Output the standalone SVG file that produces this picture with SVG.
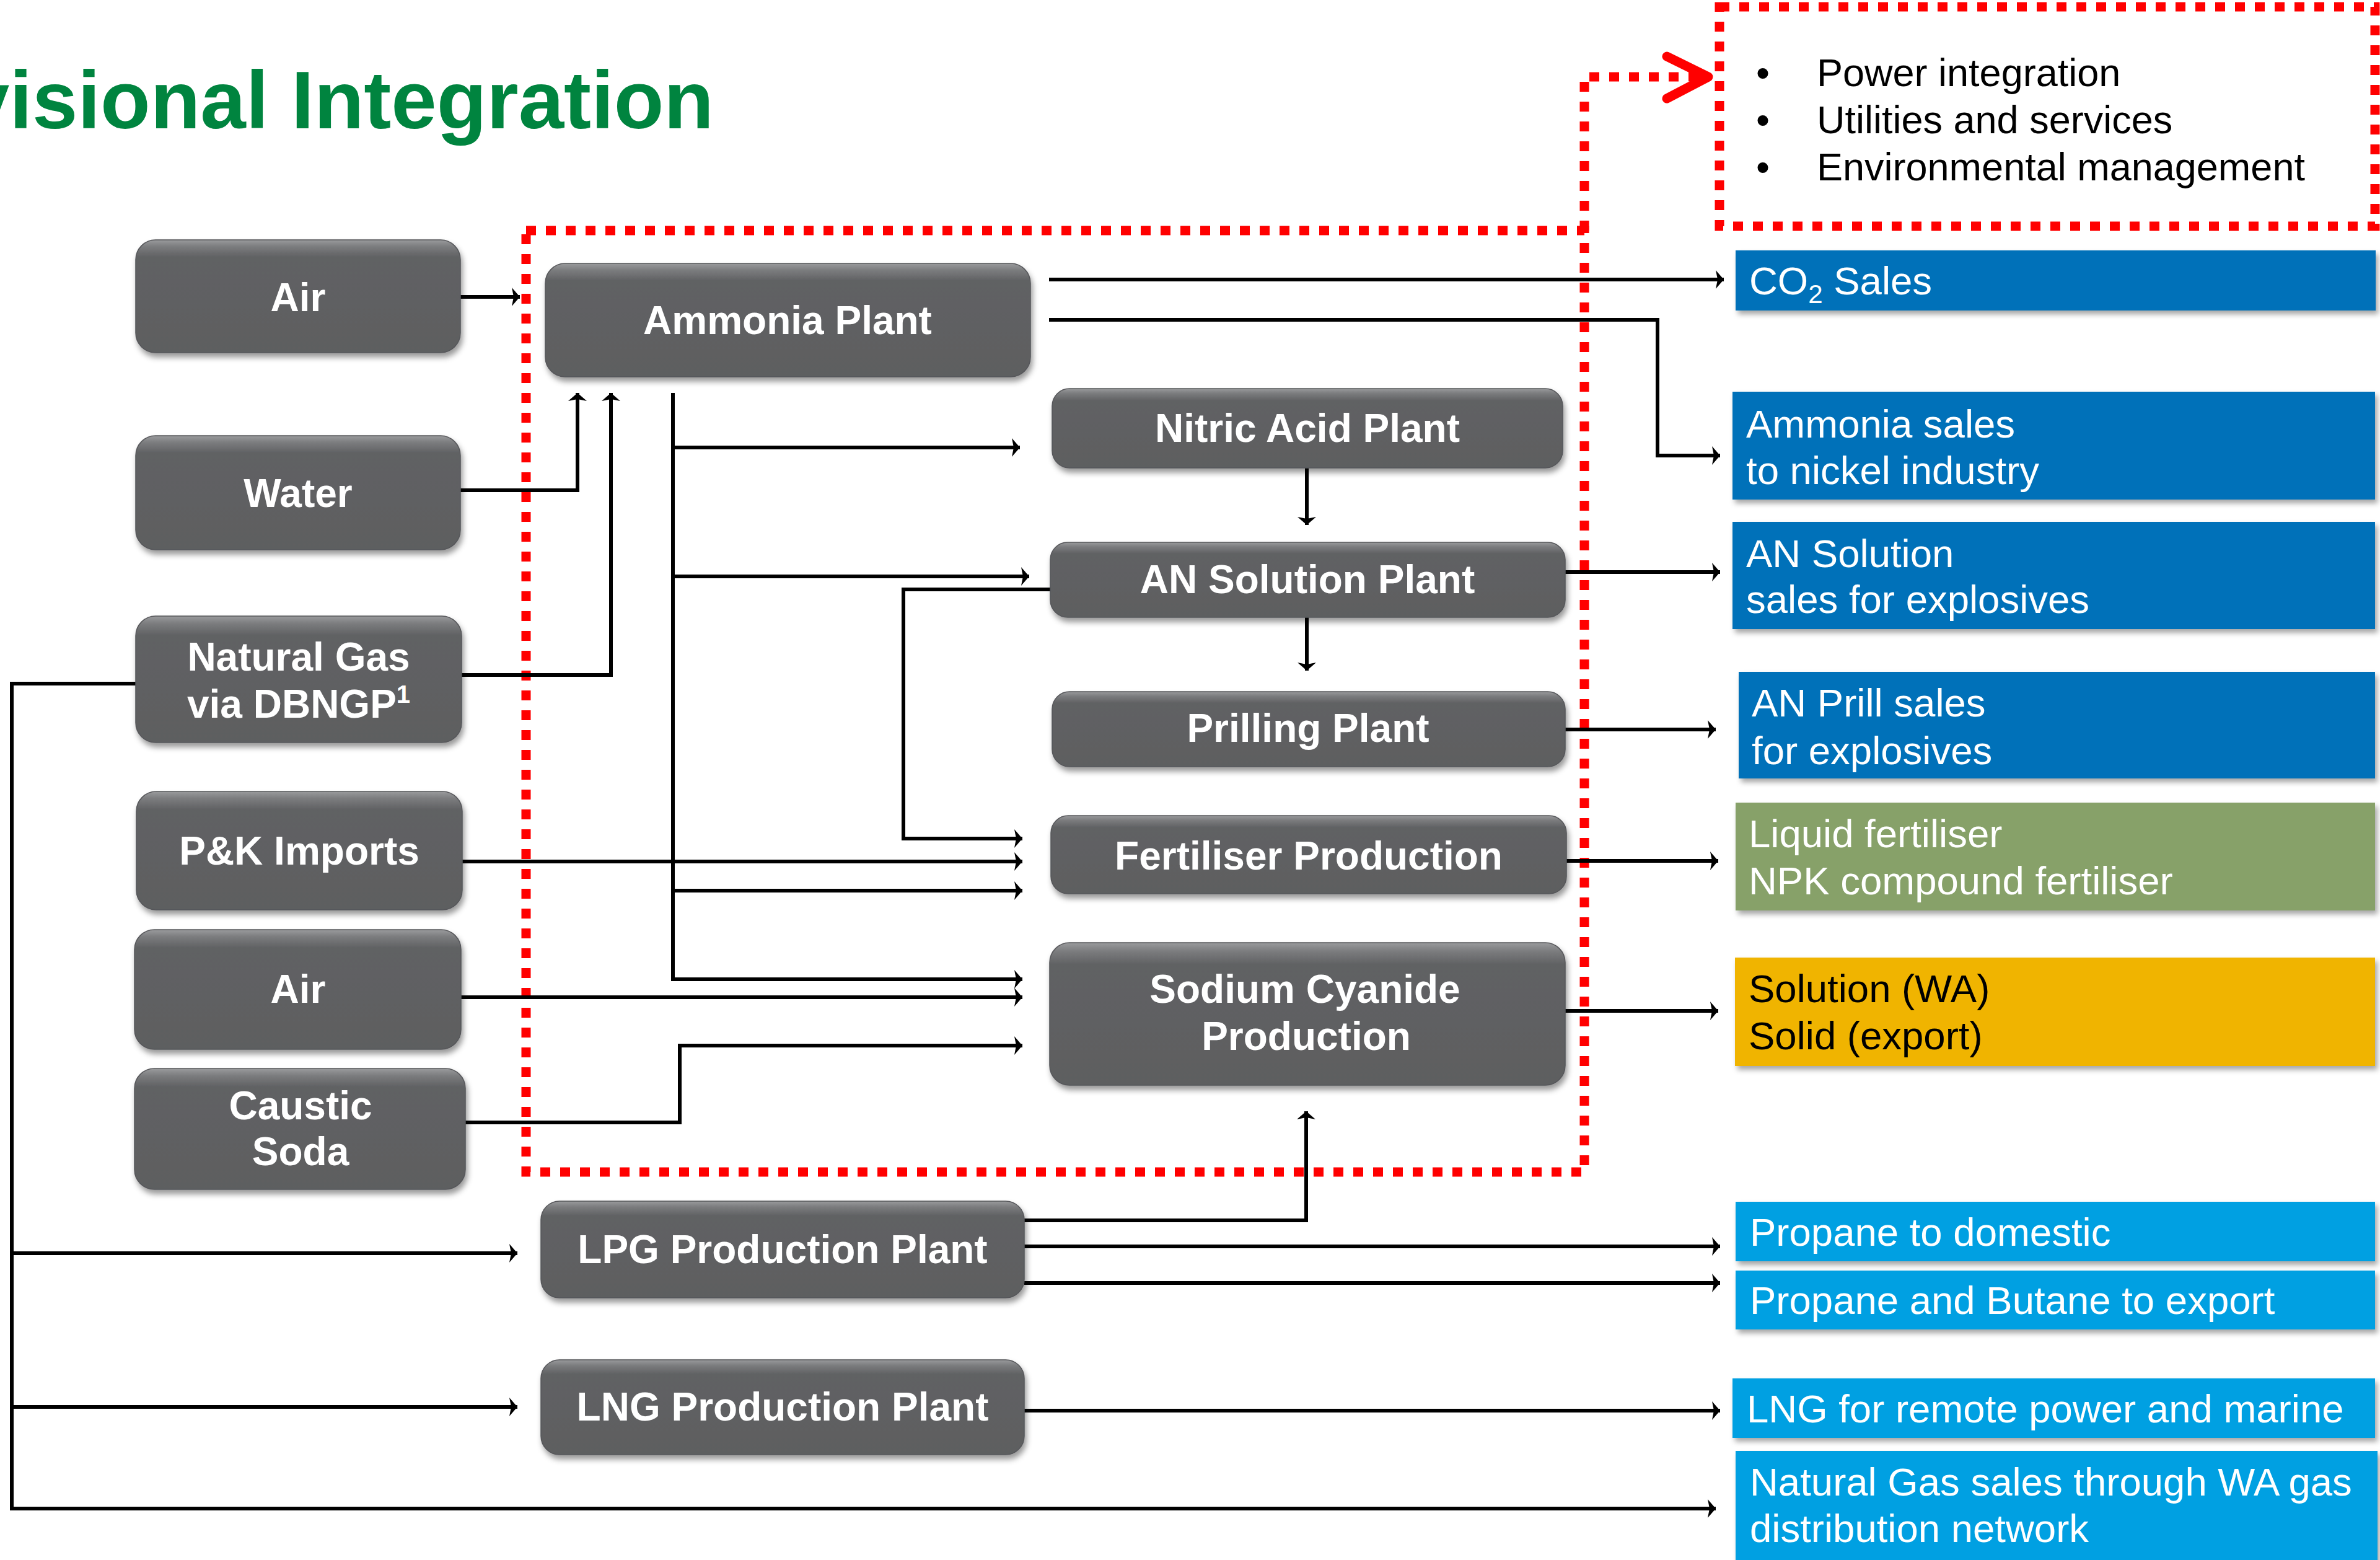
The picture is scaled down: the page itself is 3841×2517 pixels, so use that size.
<svg xmlns="http://www.w3.org/2000/svg" width="3841" height="2517" viewBox="0 0 3841 2517">
<defs>
<style>
.bg{fill:#fff}
.node rect{fill:url(#gnode);stroke:#56575a;stroke-width:1.5;filter:url(#sh)}
.nt{font-family:"Liberation Sans",Arial,sans-serif;font-weight:bold;font-size:64px;fill:#fff;text-anchor:middle}
.out rect{filter:url(#sh2)}
.ot{font-family:"Liberation Sans",Arial,sans-serif;font-size:63.5px;fill:#fff}
.blue{fill:#0071B9}
.lblue{fill:#00A0E2}
.green{fill:#87A169}
.yellow{fill:#F0B400}
.conn path{fill:none;stroke:#000;stroke-width:6}
.conn path.a{marker-end:url(#ah)}
.red{fill:none;stroke:#FF0000;stroke-width:15;stroke-dasharray:16 16}
.bul{font-family:"Liberation Sans",Arial,sans-serif;font-size:63px;fill:#000}
</style>
<linearGradient id="gnode" x1="0" y1="0" x2="0" y2="1">
<stop offset="0" stop-color="#9a9b9d"/>
<stop offset="0.06" stop-color="#7b7c7e"/>
<stop offset="0.15" stop-color="#616264"/>
<stop offset="1" stop-color="#5d5e60"/>
</linearGradient>
<filter id="sh" x="-10%" y="-20%" width="125%" height="150%">
<feDropShadow dx="3" dy="7" stdDeviation="5" flood-color="#000" flood-opacity="0.4"/>
</filter>
<filter id="sh2" x="-5%" y="-20%" width="112%" height="150%">
<feDropShadow dx="4" dy="6" stdDeviation="4" flood-color="#000" flood-opacity="0.35"/>
</filter>
<marker id="ah" markerUnits="userSpaceOnUse" viewBox="-14 -16 16 32" refX="0" refY="0" markerWidth="16" markerHeight="32" orient="auto">
<path d="M0,0 L-13,-15 L-10,0 L-13,15 Z" fill="#000"/>
</marker>
</defs>
<rect class="bg" x="0" y="0" width="3841" height="2517"/>

<text id="title" x="1152" y="207" text-anchor="end" font-family="'Liberation Sans',Arial,sans-serif" font-weight="bold" font-size="132" fill="#00843F">visional Integration</text>

<g id="integration-box">
<path class="red" d="M849,372 H2557 V1891 H849 Z"/>
<path class="red" d="M2775,11 H3833 V365 H2775 Z"/>
<path class="red" d="M2557,372 V124 H2745"/>
<polyline points="2690,91 2757,124 2690,159" fill="none" stroke="#FF0000" stroke-width="15" stroke-linecap="round" stroke-linejoin="round"/>
<text class="bul" x="2834" y="138.5">•</text>
<text class="bul" x="2932" y="138.5">Power integration</text>
<text class="bul" x="2834" y="214.7">•</text>
<text class="bul" x="2932" y="214.7">Utilities and services</text>
<text class="bul" x="2834" y="291">•</text>
<text class="bul" x="2932" y="291">Environmental management</text>
</g>

<g id="connectors" class="conn">
<path class="a" d="M743,479 H839"/>
<path class="a" d="M743,791 H932 V634"/>
<path class="a" d="M745,1089 H986 V634"/>
<path class="a" d="M1693,451 H2782"/>
<path class="a" d="M1693,516 H2675 V735 H2776"/>
<path class="a" d="M1086,634 V1580 H1650"/>
<path class="a" d="M1086,722 H1646"/>
<path class="a" d="M1086,930 H1661"/>
<path class="a" d="M1086,1437 H1650"/>
<path class="a" d="M2109,755 V847"/>
<path class="a" d="M2109,996 V1082"/>
<path class="a" d="M2526,923 H2776"/>
<path class="a" d="M2526,1177 H2769"/>
<path class="a" d="M1695,951 H1458 V1353 H1650"/>
<path class="a" d="M746,1390 H1650"/>
<path class="a" d="M2528,1389 H2773"/>
<path class="a" d="M744,1609 H1650"/>
<path class="a" d="M751,1811 H1097 V1687 H1650"/>
<path class="a" d="M2526,1631 H2773"/>
<path class="a" d="M1653,1969 H2108 V1793"/>
<path class="a" d="M1653,2011 H2776"/>
<path class="a" d="M1653,2070 H2776"/>
<path class="a" d="M1653,2276 H2776"/>
<path class="a" d="M219,1103 H19 V2434 H2769"/>
<path class="a" d="M19,2022 H835"/>
<path class="a" d="M19,2270 H835"/>
</g>

<g id="node-air1" class="node"><rect x="219" y="387" width="524" height="182" rx="32"/><text class="nt" x="481" y="502">Air</text></g>
<g id="node-water" class="node"><rect x="219" y="703" width="524" height="184" rx="32"/><text class="nt" x="481" y="818">Water</text></g>
<g id="node-natgas" class="node"><rect x="219" y="994" width="526" height="204" rx="32"/><text class="nt" x="482" y="1082">Natural Gas</text><text class="nt" x="482" y="1158">via DBNGP<tspan font-size="40" dy="-24">1</tspan></text></g>
<g id="node-pk" class="node"><rect x="220" y="1277" width="526" height="191" rx="32"/><text class="nt" x="483" y="1395">P&amp;K Imports</text></g>
<g id="node-air2" class="node"><rect x="217" y="1500" width="527" height="193" rx="32"/><text class="nt" x="481" y="1618">Air</text></g>
<g id="node-caustic" class="node"><rect x="217" y="1724" width="534" height="195" rx="32"/><text class="nt" x="485" y="1806">Caustic</text><text class="nt" x="485" y="1880">Soda</text></g>
<g id="node-ammonia" class="node"><rect x="880" y="425" width="783" height="183" rx="32"/><text class="nt" x="1271" y="539">Ammonia Plant</text></g>
<g id="node-nitric" class="node"><rect x="1698" y="627" width="824" height="128" rx="28"/><text class="nt" x="2110" y="713">Nitric Acid Plant</text></g>
<g id="node-ansol" class="node"><rect x="1695" y="875" width="831" height="121" rx="28"/><text class="nt" x="2110" y="957">AN Solution Plant</text></g>
<g id="node-prill" class="node"><rect x="1698" y="1116" width="828" height="121" rx="28"/><text class="nt" x="2111" y="1197">Prilling Plant</text></g>
<g id="node-fert" class="node"><rect x="1696" y="1316" width="832" height="126" rx="28"/><text class="nt" x="2112" y="1403">Fertiliser Production</text></g>
<g id="node-nacn" class="node"><rect x="1694" y="1521" width="832" height="230" rx="32"/><text class="nt" x="2106" y="1618">Sodium Cyanide</text><text class="nt" x="2108" y="1694">Production</text></g>
<g id="node-lpg" class="node"><rect x="873" y="1938" width="780" height="156" rx="30"/><text class="nt" x="1263" y="2038">LPG Production Plant</text></g>
<g id="node-lng" class="node"><rect x="873" y="2194" width="780" height="153" rx="30"/><text class="nt" x="1263" y="2292">LNG Production Plant</text></g>

<g id="out-co2" class="out"><rect class="blue" x="2801" y="404" width="1033" height="97"/><text class="ot" x="2823" y="475">CO<tspan font-size="42" dy="14">2</tspan><tspan dy="-14"> Sales</tspan></text></g>
<g id="out-ammonia" class="out"><rect class="blue" x="2796" y="632" width="1037" height="174"/><text class="ot" x="2818" y="705.5">Ammonia sales</text><text class="ot" x="2818" y="781">to nickel industry</text></g>
<g id="out-ansol" class="out"><rect class="blue" x="2796" y="842" width="1037" height="173"/><text class="ot" x="2818" y="914.5">AN Solution</text><text class="ot" x="2818" y="988.6">sales for explosives</text></g>
<g id="out-prill" class="out"><rect class="blue" x="2806" y="1084" width="1027" height="172"/><text class="ot" x="2827" y="1156">AN Prill sales</text><text class="ot" x="2827" y="1233">for explosives</text></g>
<g id="out-fert" class="out"><rect class="green" x="2801" y="1295" width="1032" height="174"/><text class="ot" x="2822" y="1367">Liquid fertiliser</text><text class="ot" x="2822" y="1443">NPK compound fertiliser</text></g>
<g id="out-nacn" class="out"><rect class="yellow" x="2800" y="1545" width="1033" height="175"/><text class="ot" x="2822" y="1617" fill="#000" style="fill:#000">Solution (WA)</text><text class="ot" x="2822" y="1693" style="fill:#000">Solid (export)</text></g>
<g id="out-propdom" class="out"><rect class="lblue" x="2801" y="1939" width="1032" height="96"/><text class="ot" x="2824" y="2010">Propane to domestic</text></g>
<g id="out-propexp" class="out"><rect class="lblue" x="2801" y="2050" width="1032" height="95"/><text class="ot" x="2824" y="2120">Propane and Butane to export</text></g>
<g id="out-lng" class="out"><rect class="lblue" x="2796" y="2224" width="1037" height="96"/><text class="ot" x="2819" y="2295">LNG for remote power and marine</text></g>
<g id="out-natgas" class="out"><rect class="lblue" x="2801" y="2341" width="1036" height="180"/><text class="ot" x="2824" y="2413">Natural Gas sales through WA gas</text><text class="ot" x="2824" y="2488">distribution network</text></g>
</svg>
